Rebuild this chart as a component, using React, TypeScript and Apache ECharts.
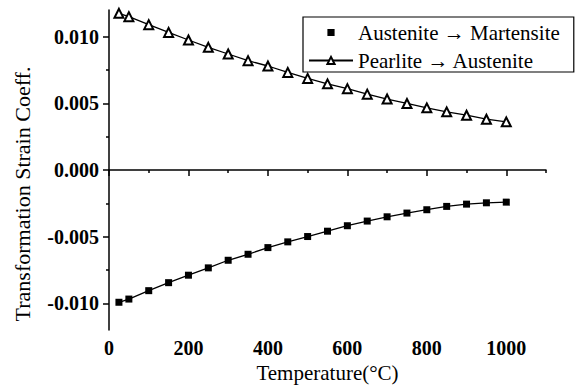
import React, { useEffect, useRef } from "react";
import * as echarts from "echarts";

const temperatures = [25, 50, 100, 150, 200, 250, 300, 350, 400, 450, 500, 550, 600, 650, 700, 750, 800, 850, 900, 950, 1000];
const austMart = [-0.00992, -0.00968, -0.00905, -0.00845, -0.00789, -0.00734, -0.00677, -0.00632, -0.00582, -0.00539, -0.00499, -0.00459, -0.00418, -0.00383, -0.00351, -0.00323, -0.00298, -0.00273, -0.00256, -0.00246, -0.00241];
const pearAust = [0.01175, 0.0115, 0.0109, 0.01032, 0.00975, 0.0092, 0.0087, 0.0082, 0.0078, 0.00732, 0.00687, 0.00646, 0.0061, 0.00569, 0.00532, 0.00499, 0.00466, 0.00436, 0.00411, 0.00381, 0.00361];
const seriesNames = ["Austenite \u2192 Martensite", "Pearlite \u2192 Austenite"];
const xTicks = [0, 200, 400, 600, 800, 1000];
const xMinorTicks = [100, 300, 500, 700, 900, 1100];
const yTicks = [-0.01, -0.005, 0, 0.005, 0.01];
const yMinorTicks = [-0.0075, -0.0025, 0.0025, 0.0075];

const FONT = "serif";

export default function App() {
  const ref = useRef<HTMLDivElement>(null);
  useEffect(() => {
    if (!ref.current) return;
    const chart = echarts.init(ref.current, undefined, { renderer: "svg" });
    const axisLine = { show: true, lineStyle: { color: "#000", width: 1.5 } };
    chart.setOption({
      animation: false,
      backgroundColor: "#fff",
      textStyle: { fontFamily: FONT },
      grid: { left: 109, right: 38, top: 10, bottom: 62 },
      legend: {
        orient: "vertical",
        left: 303,
        top: 17,
        padding: [5, 14, 1, 5],
        itemGap: 7,
        itemWidth: 44,
        itemHeight: 9,
        borderColor: "#000",
        borderWidth: 1.2,
        textStyle: { fontFamily: FONT, fontSize: 21, color: "#000" },
        data: [
          { name: seriesNames[0], lineStyle: { opacity: 0 } },
          { name: seriesNames[1] },
        ],
      },
      xAxis: [
        {
          type: "value",
          min: 0,
          max: 1100,
          splitLine: { show: false },
          axisLine,
          axisTick: { show: true, customValues: xTicks, length: 6, lineStyle: { color: "#000", width: 1.5 } },
          axisLabel: {
            customValues: xTicks,
            margin: 8,
            formatter: (v: number) => String(v),
            fontFamily: FONT,
            fontSize: 20,
            fontWeight: "bold",
            color: "#000",
          },
          name: "Temperature(\u00B0C)",
          nameLocation: "middle",
          nameGap: 32,
          nameTextStyle: { fontFamily: FONT, fontSize: 21, color: "#000" },
        },
        {
          type: "value",
          min: 0,
          max: 1100,
          position: "bottom",
          offset: 0,
          splitLine: { show: false },
          axisLine: { show: false },
          axisLabel: { show: false },
          axisTick: { show: true, customValues: xMinorTicks, length: 3, lineStyle: { color: "#000", width: 1.5 } },
        },
      ],
      yAxis: [
        {
          type: "value",
          min: -0.012,
          max: 0.012,
          position: "left",
          splitLine: { show: false },
          axisLine,
          axisTick: { show: true, customValues: yTicks, length: 6, lineStyle: { color: "#000", width: 1.5 } },
          axisLabel: {
            customValues: yTicks,
            margin: 10,
            formatter: (v: number) => v.toFixed(3),
            fontFamily: FONT,
            fontSize: 20,
            fontWeight: "bold",
            color: "#000",
          },
          name: "Transformation Strain Coeff.",
          nameLocation: "middle",
          nameGap: 76,
          nameTextStyle: { fontFamily: FONT, fontSize: 22, color: "#000", padding: [0, 48, 0, 0] },
        },
        {
          type: "value",
          min: -0.012,
          max: 0.012,
          position: "left",
          offset: 0,
          splitLine: { show: false },
          axisLine: { show: false },
          axisLabel: { show: false },
          axisTick: { show: true, customValues: yMinorTicks, length: 3, lineStyle: { color: "#000", width: 1.5 } },
        },
      ],
      series: [
        {
          name: seriesNames[0],
          type: "line",
          data: temperatures.map((t, i) => [t, austMart[i]]),
          symbol: "rect",
          symbolSize: 7,
          itemStyle: { color: "#000" },
          lineStyle: { color: "#000", width: 1.3 },
        },
        {
          name: seriesNames[1],
          type: "line",
          data: temperatures.map((t, i) => [t, pearAust[i]]),
          symbol: "emptyTriangle",
          symbolSize: 9,
          itemStyle: { color: "#000", borderWidth: 1 },
          lineStyle: { color: "#000", width: 1.3 },
        },
      ],
    });
    return () => chart.dispose();
  }, []);
  return <div ref={ref} style={{ width: 584, height: 392, position: "absolute", left: 0, top: 0 }} />;
}
